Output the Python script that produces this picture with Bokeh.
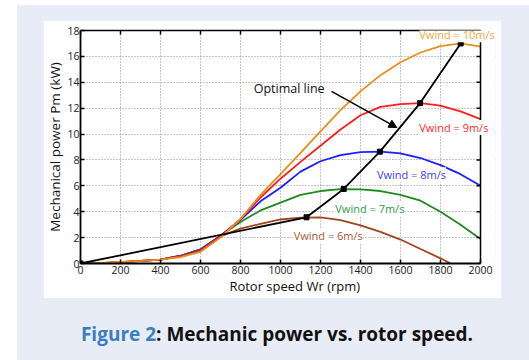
from bokeh.plotting import figure
from bokeh.models import Range1d, Label, Arrow, NormalHead, LinearAxis, Div, Spacer, FixedTicker
from bokeh.layouts import column, row
from bokeh.embed import file_html
from bokeh.resources import INLINE

rpm = [0, 100, 200, 300, 400, 500, 600, 700, 800, 900, 1000, 1100, 1200, 1300, 1400, 1500, 1600, 1700, 1800, 1900, 2000]
pm_6 = [0, 0.03, 0.1, 0.2, 0.3, 0.6, 1.1, 2.1, 2.7, 3.07, 3.4, 3.55, 3.57, 3.35, 2.95, 2.45, 1.85, 1.12, 0.4, -0.4, -1.3]
pm_7 = [0, 0.03, 0.1, 0.2, 0.3, 0.6, 1.1, 2.15, 3.2, 4.1, 4.7, 5.3, 5.6, 5.75, 5.72, 5.6, 5.3, 4.85, 4.0, 3.0, 1.9]
pm_8 = [0, 0.02, 0.08, 0.18, 0.3, 0.58, 1.05, 2.15, 3.38, 4.8, 5.85, 7.1, 7.9, 8.38, 8.6, 8.64, 8.5, 8.15, 7.6, 6.9, 6.0]
pm_9 = [0, 0.03, 0.1, 0.2, 0.3, 0.56, 1.0, 2.1, 3.42, 5.1, 6.55, 7.85, 9.1, 10.35, 11.45, 12.1, 12.32, 12.39, 12.2, 11.75, 11.15]
pm_10 = [0, 0.04, 0.12, 0.2, 0.3, 0.5, 0.9, 2.0, 3.45, 5.3, 6.9, 8.55, 10.2, 11.85, 13.3, 14.55, 15.55, 16.3, 16.8, 17.0, 16.75]

opt_rpm = [0, 1130, 1316, 1497, 1698, 1901]
opt_pm = [0, 3.57, 5.76, 8.64, 12.39, 17.0]

x_ticks = [0, 200, 400, 600, 800, 1000, 1200, 1400, 1600, 1800, 2000]
y_ticks = [0, 2, 4, 6, 8, 10, 12, 14, 16, 18]

# (values, line colour, label, label colour, label position)
series = [
    (pm_6, "#a0461e", "Vwind = 6m/s", "#a8562e", (1066, 2.16)),
    (pm_7, "#1f8a1f", "Vwind = 7m/s", "#2e9a46", (1274, 4.23)),
    (pm_8, "#1e1eff", "Vwind = 8m/s", "#3c3cff", (1482, 6.85)),
    (pm_9, "#ff1c1c", "Vwind = 9m/s", "#ff2a2a", (1694, 10.5)),
    (pm_10, "#e88e1a", "Vwind = 10m/s", "#f5a43a", (1694, 17.68)),
]

FONT = "Open Sans"
X_MIN, X_MAX = x_ticks[0], x_ticks[-1]
Y_MIN, Y_MAX = y_ticks[0], y_ticks[-1]
X_VIEW_END = 2075          # room on the right for the labels that overhang the box
W, H = 458, 278
BL, BR, BT, BB = 36, 6, 10, 35
px_per_x = (W - BL - BR) / (X_VIEW_END - X_MIN)
tick_len = 4 / px_per_x

p = figure(width=W, height=H, output_backend="svg", toolbar_location=None,
           x_range=Range1d(X_MIN, X_VIEW_END), y_range=Range1d(Y_MIN, Y_MAX),
           min_border_left=BL, min_border_right=BR, min_border_top=BT, min_border_bottom=BB,
           background_fill_color="white", border_fill_color="white")
p.outline_line_color = None

for ax in (p.xaxis[0], p.yaxis[0]):
    ax.axis_line_color = "black"
    ax.axis_line_width = 1.8
    ax.major_tick_in = 4
    ax.major_tick_out = 0
    ax.major_tick_line_color = "black"
    ax.major_tick_line_width = 1.5
    ax.minor_tick_line_color = None
    ax.major_label_text_font = FONT
    ax.major_label_text_font_size = "10.5px"
    ax.major_label_text_color = "#222222"
    ax.major_label_standoff = 2
p.xaxis.ticker = FixedTicker(ticks=x_ticks)
p.xaxis.bounds = (X_MIN, X_MAX)
p.yaxis.ticker = FixedTicker(ticks=y_ticks)
p.yaxis.bounds = (Y_MIN, Y_MAX)
p.yaxis.axis_label = "Mechanical power Pm (kW)"
p.yaxis.axis_label_text_font = FONT
p.yaxis.axis_label_text_font_size = "13.5px"
p.yaxis.axis_label_text_color = "#111111"
p.yaxis.axis_label_text_font_style = "normal"
p.yaxis.axis_label_standoff = 0
p.yaxis.major_label_standoff = 1

p.xaxis.axis_label = "\u00a0" * 4 + "Rotor speed Wr (rpm)"
p.xaxis.axis_label_text_font = FONT
p.xaxis.axis_label_text_font_size = "13px"
p.xaxis.axis_label_text_color = "#111111"
p.xaxis.axis_label_text_font_style = "normal"
p.xaxis.axis_label_standoff = 0

top = LinearAxis(ticker=FixedTicker(ticks=x_ticks), bounds=(X_MIN, X_MAX))
top.axis_line_color = "black"
top.axis_line_width = 1.5
top.major_tick_in = 4
top.major_tick_out = 0
top.major_tick_line_color = "black"
top.major_tick_line_width = 1.5
top.minor_tick_line_color = None
top.major_label_text_font_size = "1px"
top.major_label_text_alpha = 0
top.major_label_standoff = 0
p.add_layout(top, "above")

p.grid.grid_line_color = "#8a8a8a"
p.grid.grid_line_dash = "1 2"
p.grid.grid_line_width = 1
p.xgrid.ticker = FixedTicker(ticks=x_ticks)
p.ygrid.ticker = FixedTicker(ticks=y_ticks)

# hide the grid beyond the right side of the box
p.quad(left=[X_MAX], right=[X_VIEW_END], bottom=[Y_MIN], top=[Y_MAX], fill_color="white", line_color=None)

for vals, col, lab, tcol, pos in series:
    p.line(rpm, vals, line_color=col, line_width=1.8)

p.line(opt_rpm, opt_pm, line_color="black", line_width=1.8)
p.scatter(opt_rpm, opt_pm, marker="square", size=5, color="black")

# right side of the box with inward ticks
p.line([X_MAX, X_MAX], [Y_MIN, Y_MAX], line_color="black", line_width=1.5)
p.segment(x0=[X_MAX - tick_len] * len(y_ticks), y0=y_ticks, x1=[X_MAX] * len(y_ticks), y1=y_ticks,
          line_color="black", line_width=1.5)

for vals, col, lab, tcol, pos in series:
    p.add_layout(Label(x=pos[0], y=pos[1], text=lab,
                       text_font=FONT, text_font_size="11px",
                       text_color=tcol, text_baseline="middle", text_align="left",
                       background_fill_color="white"))

p.add_layout(Label(x=866, y=13.5, text="Optimal line", text_font=FONT, text_font_size="12.5px",
                   text_color="#111111", text_baseline="middle", text_align="left"))
p.add_layout(Arrow(x_start=1255, y_start=13.3, x_end=1582, y_end=10.5, line_color="black", line_width=1.5,
                   end=NormalHead(size=8, fill_color="black", line_color="black")))

cap = Div(text='<div style="width:458px;padding-top:18px;text-align:center;font-family:\'Open Sans\';font-weight:700;'
               'font-size:19px;color:#111111;white-space:nowrap">'
               '<span style="color:#3a7ec2">Figure 2</span>: Mechanic power vs. rotor speed.</div>',
          width=458, height=60)

inner = column(Spacer(height=15), p, cap)
outer = row(Spacer(width=26), inner, Spacer(width=26),
            styles={"background-color": "#e8ecf6"}, margin=(5, 0, 0, 17))

open("out.html", "w").write(file_html(outer, INLINE))
